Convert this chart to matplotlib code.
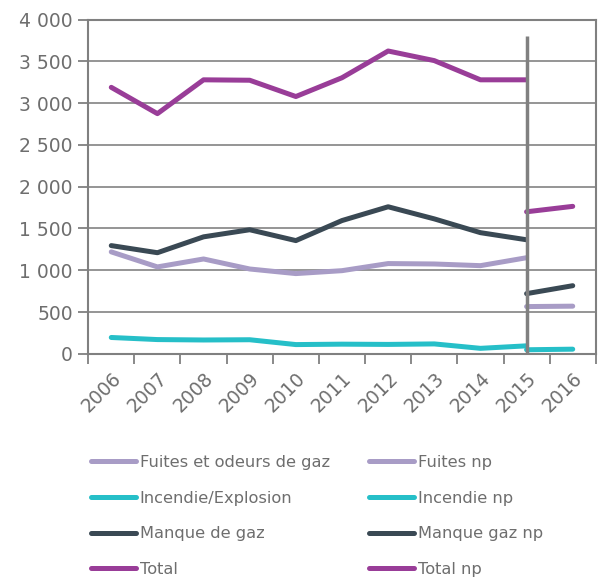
import matplotlib
matplotlib.use("Agg")
import matplotlib.pyplot as plt
from matplotlib.ticker import FuncFormatter, FixedLocator

years = ["2006", "2007", "2008", "2009", "2010", "2011", "2012", "2013", "2014", "2015", "2016"]

# series 2006-2015
fuites = [1220, 1040, 1135, 1015, 960, 995, 1080, 1075, 1055, 1150]
incendie = [195, 170, 165, 168, 110, 115, 112, 118, 65, 95]
manque = [1295, 1210, 1400, 1485, 1355, 1595, 1760, 1615, 1450, 1365]
total = [3190, 2875, 3280, 3275, 3080, 3305, 3625, 3510, 3280, 3280]

# "np" series 2015-2016
fuites_np = [565, 570]
incendie_np = [48, 55]
manque_np = [720, 815]
total_np = [1700, 1765]

C_FUITES = "#a89cc6"
C_INC = "#26bfc8"
C_MANQUE = "#3a4954"
C_TOTAL = "#993d98"
GREY = "#808080"
TXT = "#6e6e6e"

plt.rcParams["font.family"] = ["DejaVu Sans"]

fig = plt.figure(figsize=(6, 5.79), dpi=100)
ax = fig.add_axes([0.147, 0.389, 0.846, 0.577])

x_old = list(range(len(total)))
x_np = [9, 10]
lw = 3.6

series = [
    (fuites, C_FUITES, "Fuites et odeurs de gaz"),
    (incendie, C_INC, "Incendie/Explosion"),
    (manque, C_MANQUE, "Manque de gaz"),
    (total, C_TOTAL, "Total"),
]
series_np = [
    (fuites_np, C_FUITES, "Fuites np"),
    (incendie_np, C_INC, "Incendie np"),
    (manque_np, C_MANQUE, "Manque gaz np"),
    (total_np, C_TOTAL, "Total np"),
]
handles = []
for vals, col, lab in series:
    h, = ax.plot(x_old, vals, color=col, lw=lw, label=lab, solid_capstyle="round", zorder=3)
    handles.append(h)
for vals, col, lab in series_np:
    h, = ax.plot(x_np, vals, color=col, lw=lw, label=lab, solid_capstyle="round", zorder=3)
    handles.append(h)

# separator at 2015
ax.vlines(9, 0, 3800, color=GREY, lw=2.5, zorder=4)

ax.set_xlim(-0.5, 10.5)
ax.set_ylim(0, 4000)
ax.set_yticks(range(0, 4001, 500))
ax.yaxis.set_major_formatter(FuncFormatter(lambda v, p: f"{int(v):,}".replace(",", " ")))
ax.grid(axis="y", color="#8c8c8c", lw=1.3, zorder=1)

ax.set_xticks(range(len(years)))
ax.set_xticklabels(years, rotation=45, ha="right", rotation_mode="anchor")
ax.xaxis.set_minor_locator(FixedLocator([i - 0.5 for i in range(len(years) + 1)]))
ax.tick_params(axis="x", which="major", length=0, labelsize=13.5, colors=TXT, pad=11)
ax.tick_params(axis="x", which="minor", length=7, width=1.3, color=GREY, direction="out")
ax.tick_params(axis="y", length=7, width=1.3, color=GREY, labelsize=13.5, labelcolor=TXT, pad=4)

for s in ax.spines.values():
    s.set_color(GREY)
    s.set_linewidth(1.5)

fig.legend(handles=handles, ncol=2, loc="upper left", bbox_to_anchor=(0.138, 0.228),
           frameon=False, fontsize=11.7, labelcolor=TXT, handlelength=2.8,
           handletextpad=0.2, labelspacing=1.27, columnspacing=2.4, borderpad=0)

fig.savefig("out.png", dpi=100)
